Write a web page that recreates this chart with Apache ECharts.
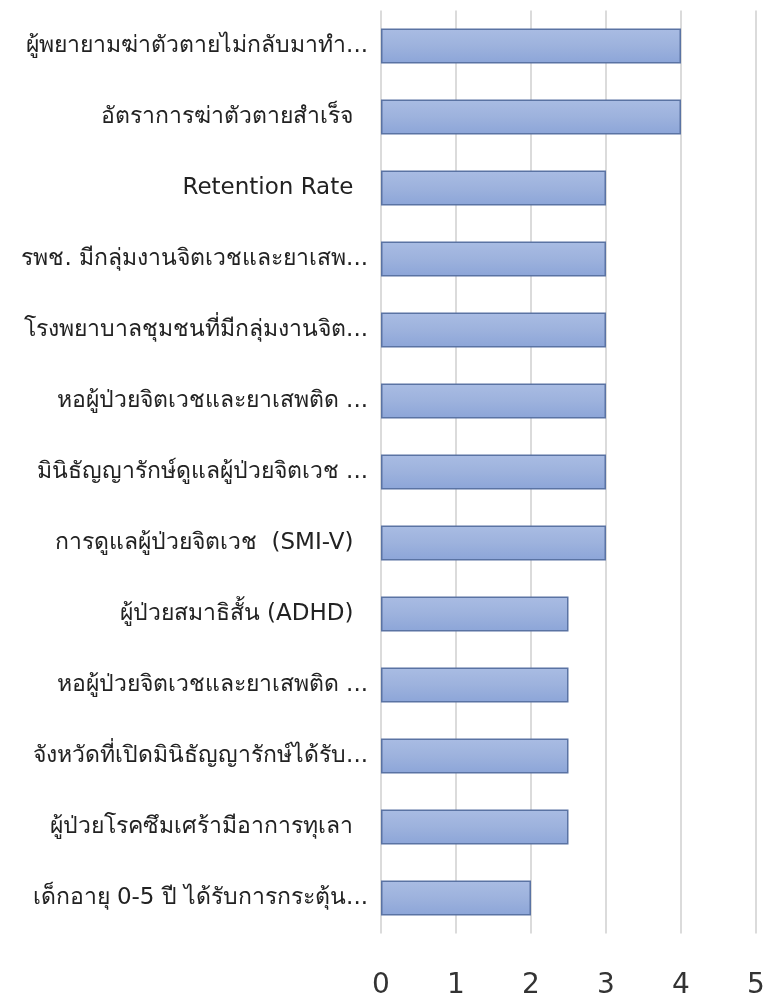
<!DOCTYPE html>
<html><head><meta charset="utf-8">
<script src="https://cdn.jsdelivr.net/npm/echarts@6/dist/echarts.min.js"></script>
<style>html,body{margin:0;padding:0;background:#fff}#c{width:767px;height:994px}</style>
</head><body><div id="c"></div>
<script>
const categories = [
  "ผู้พยายามฆ่าตัวตายไม่กลับมาทำ...",
  "อัตราการฆ่าตัวตายสำเร็จ  ",
  "Retention Rate  ",
  "รพช. มีกลุ่มงานจิตเวชและยาเสพ...",
  "โรงพยาบาลชุมชนที่มีกลุ่มงานจิต...",
  "หอผู้ป่วยจิตเวชและยาเสพติด ...",
  "มินิธัญญารักษ์ดูแลผู้ป่วยจิตเวช ...",
  "การดูแลผู้ป่วยจิตเวช  (SMI-V)  ",
  "ผู้ป่วยสมาธิสั้น (ADHD)  ",
  "หอผู้ป่วยจิตเวชและยาเสพติด ...",
  "จังหวัดที่เปิดมินิธัญญารักษ์ได้รับ...",
  "ผู้ป่วยโรคซึมเศร้ามีอาการทุเลา  ",
  "เด็กอายุ 0-5 ปี ได้รับการกระตุ้น..."
];
const values = [4, 4, 3, 3, 3, 3, 3, 3, 2.5, 2.5, 2.5, 2.5, 2];
const xTicks = [0, 1, 2, 3, 4, 5];

const chart = echarts.init(document.getElementById('c'));
chart.setOption({
  animation: false,
  grid: { left: 381, right: 11, top: 10.5, bottom: 60.5, containLabel: false, outerBoundsMode: 'none' },
  xAxis: {
    type: 'value', min: xTicks[0], max: xTicks[xTicks.length - 1], interval: 1,
    axisLine: { show: false }, axisTick: { show: false },
    splitLine: { show: true, lineStyle: { color: '#cfcfcf', width: 1.5 } },
    axisLabel: { fontSize: 28, color: '#333', margin: 38, fontFamily: 'DejaVu Sans',
      formatter: v => String(v) }
  },
  yAxis: {
    type: 'category', inverse: true, data: categories,
    axisLine: { show: false }, axisTick: { show: false },
    axisLabel: { fontSize: 23, color: '#222', margin: 13, fontFamily: 'DejaVu Sans, Noto Sans, sans-serif' }
  },
  series: [{
    type: 'bar', data: values, barWidth: 35,
    itemStyle: {
      color: new echarts.graphic.LinearGradient(0, 0, 0, 1, [
        { offset: 0, color: '#a9bce3' },
        { offset: 0.5, color: '#9db2dd' },
        { offset: 1, color: '#8ca5d8' }
      ]),
      borderColor: '#5a73a3', borderWidth: 1.5
    }
  }]
});
</script></body></html>
